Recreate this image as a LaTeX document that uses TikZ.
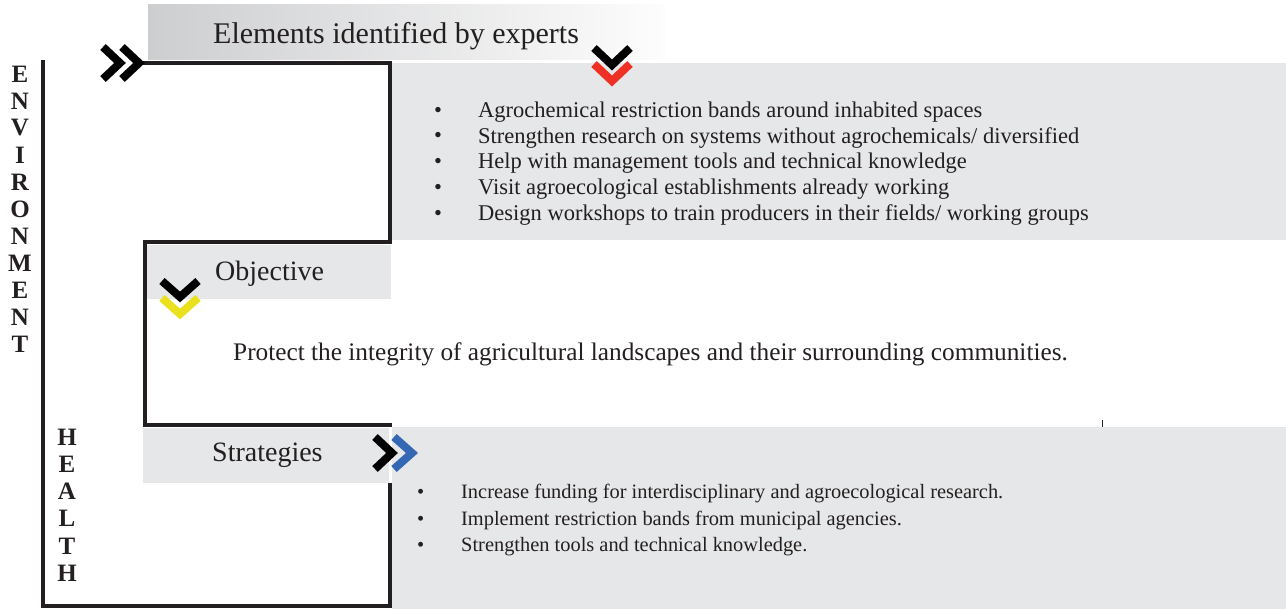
\documentclass[tikz,border=0pt]{standalone}
\usepackage{fontspec}
\setmainfont{Liberation Serif}
\usetikzlibrary{positioning}

\definecolor{boxgray}{HTML}{E6E7E8}
\definecolor{headgray}{HTML}{CDCED0}
\definecolor{inkgray}{HTML}{231F20}
\definecolor{chevred}{HTML}{EE3124}
\definecolor{chevyellow}{HTML}{E9E11E}
\definecolor{chevblue}{HTML}{3568B4}

\begin{document}
\begin{tikzpicture}[
    x=1pt, y=-1pt,
    frame/.style={line width=4pt, draw=inkgray, line cap=rect},
    panel/.style={fill=boxgray, draw=none},
    chev/.style={line width=8pt, line join=miter, miter limit=4},
    title/.style={anchor=west, inner sep=0pt, text=inkgray, font=\fontsize{28}{32}\selectfont},
    item/.style={anchor=west, inner sep=0pt, text=inkgray, font=\fontsize{22.5}{26}\selectfont},
    subitem/.style={anchor=west, inner sep=0pt, text=inkgray, font=\fontsize{20.4}{24}\selectfont},
    sidechar/.style={inner sep=0pt, text=inkgray, font=\fontsize{25}{27}\selectfont\bfseries}
]
    \useasboundingbox (0,0) rectangle (1286,609);

    % Grey panels
    \shade[left color=headgray, right color=white!96!headgray] (148,5) rectangle (665,60);
    \fill[panel] (392,63) rectangle (1286,240);
    \fill[panel] (146,245) rectangle (391,299);
    \fill[panel] (143,428) rectangle (389,483);
    \fill[panel] (392,427) rectangle (1286,609);

    % Headings
    \node[title, font=\fontsize{30}{34}\selectfont] (experts) at (213,36) {Elements identified by experts};
    \node[title] (objective) at (215,274) {Objective};
    \node[title] (strategies) at (212,455) {Strategies};

    % Frame lines
    \draw[frame] (145,63) -- (390,63) -- (390,242) -- (145,242) -- (145,425) -- (390,425);
    \draw[frame] (390,485) -- (390,606) -- (43,606) -- (43,62);
    \draw[inkgray, line width=0.7pt] (1102,420) -- (1102,427);

    % Chevrons
    \draw[chev, black] (103,47) -- (120,63) -- (103,79);
    \draw[chev, black] (122,47) -- (139,63) -- (122,79);
    \draw[chev, chevred] (594,64) -- (612,81) -- (630,64);
    \draw[chev, black] (594,48) -- (612,65) -- (630,48);
    \draw[chev, chevyellow] (162,298) -- (180,314) -- (198,298);
    \draw[chev, black] (162,281) -- (180,297) -- (198,281);
    \draw[chev, black] (375,437) -- (392,453) -- (375,469);
    \draw[chev, chevblue] (394,437) -- (412,453) -- (394,469);

    % Elements identified
    \foreach \txt [count=\i] in {Agrochemical restriction bands around inhabited spaces,
        Strengthen research on systems without agrochemicals/ diversified,
        Help with management tools and technical knowledge,
        Visit agroecological establishments already working,
        Design workshops to train producers in their fields/ working groups} {
        \node[item] (elem\i) at (478,{86.5+25.7*\i}) {\txt};
        \node[item] (dot\i) at (434,{86.5+25.7*\i}) {\textbullet};
    }

    % Objective
    \node[item, font=\fontsize{25.3}{29}\selectfont] (protect) at (233,354)
        {Protect the integrity of agricultural landscapes and their surrounding communities.};

    % Strategies
    \foreach \txt [count=\i] in {Increase funding for interdisciplinary and agroecological research.,
        Implement restriction bands from municipal agencies.,
        Strengthen tools and technical knowledge.} {
        \node[subitem] (strat\i) at (461,{467.5+26.5*\i}) {\txt};
        \node[subitem] (sdot\i) at (417,{467.5+26.5*\i}) {\textbullet};
    }

    % Side labels
    \foreach \ch [count=\i] in {E,N,V,I,R,O,N,M,E,N,T}
        \node[sidechar] (env\i) at (20,{47+27*\i}) {\ch};
    \foreach \ch [count=\i] in {H,E,A,L,T,H}
        \node[sidechar] (hea\i) at (67,{410+27.2*\i}) {\ch};

\end{tikzpicture}
\end{document}
